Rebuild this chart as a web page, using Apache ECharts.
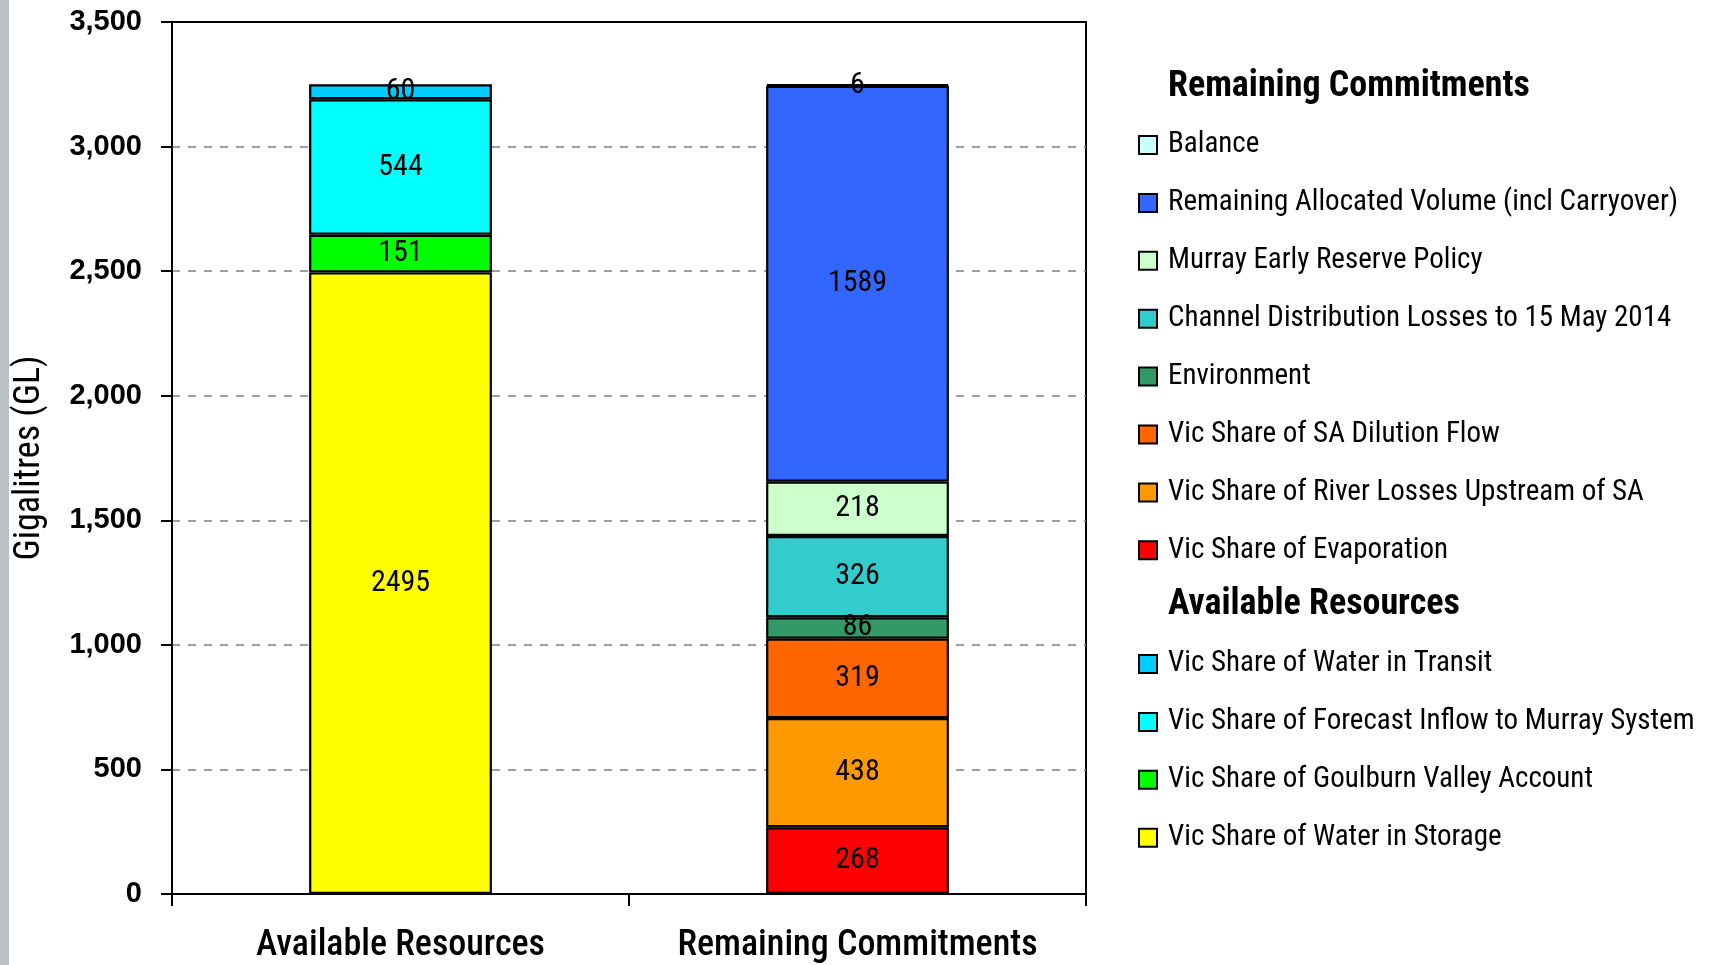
<!DOCTYPE html>
<html><head><meta charset="utf-8">
<script src="https://cdn.jsdelivr.net/npm/echarts@6/dist/echarts.min.js"></script>
<style>html,body{margin:0;padding:0;background:#fff}#c{width:1718px;height:965px}</style>
</head><body><div id="c"></div>
<script>
const categories = ['Available Resources', 'Remaining Commitments'];
const yMin = 0, yMax = 3500, yStep = 500;

const availableNames = ['Vic Share of Water in Storage', 'Vic Share of Goulburn Valley Account', 'Vic Share of Forecast Inflow to Murray System', 'Vic Share of Water in Transit'];
const availableValues = [2495, 151, 544, 60];
const availableColors = ['#FFFF00', '#00FF00', '#00FFFF', '#00CCFF'];

const commitmentNames = ['Vic Share of Evaporation', 'Vic Share of River Losses Upstream of SA', 'Vic Share of SA Dilution Flow', 'Environment', 'Channel Distribution Losses to 15 May 2014', 'Murray Early Reserve Policy', 'Remaining Allocated Volume (incl Carryover)', 'Balance'];
const commitmentValues = [268, 438, 319, 86, 326, 218, 1589, 6];
const commitmentColors = ['#FF0000', '#FF9900', '#FF6600', '#339966', '#33CCCC', '#CCFFCC', '#3366FF', '#CCFFFF'];

const NARROW = "'Roboto Condensed', 'DejaVu Sans Condensed', sans-serif";

function mkSeries(name, value, color, catIndex) {
  const data = categories.map((c, i) => i === catIndex ? value : '-');
  return {
    name: name, type: 'bar', stack: 'total', data: data, barWidth: '40%',
    itemStyle: { color: color, borderColor: '#000', borderWidth: 2.2 },
    label: { show: true, position: 'inside', color: '#000', fontFamily: NARROW, fontSize: 30,
      formatter: p => p.value },
    emphasis: { disabled: true }
  };
}
const series = [];
availableNames.forEach((n, i) => series.push(mkSeries(n, availableValues[i], availableColors[i], 0)));
commitmentNames.forEach((n, i) => series.push(mkSeries(n, commitmentValues[i], commitmentColors[i], 1)));

const legendText = { fontFamily: NARROW, fontSize: 29, color: '#000', lineHeight: 30, padding: [0, 0, 0, 6] };

const chart = echarts.init(document.getElementById('c'), null, { renderer: 'canvas' });
chart.setOption({
  backgroundColor: '#fff',
  animation: false,
  graphic: [{ type: 'rect', shape: { x: 0, y: 0, width: 9, height: 965 }, style: { fill: '#b9c1c5' }, silent: true }],
  title: [
    { text: 'Remaining Commitments', left: 1168, top: 68, padding: 0,
      textStyle: { fontFamily: NARROW, fontSize: 36, fontWeight: 'bold', color: '#000', lineHeight: 38 } },
    { text: 'Available Resources', left: 1168, top: 586, padding: 0,
      textStyle: { fontFamily: NARROW, fontSize: 36, fontWeight: 'bold', color: '#000', lineHeight: 38 } }
  ],
  legend: [
    { data: commitmentNames.slice().reverse(), orient: 'vertical', left: 1138, top: 130, padding: 0,
      itemWidth: 18, itemHeight: 18, itemGap: 27.9, icon: 'rect', selectedMode: false, textStyle: legendText,
      itemStyle: { borderColor: '#000', borderWidth: 2 } },
    { data: availableNames.slice().reverse(), orient: 'vertical', left: 1138, top: 649, padding: 0,
      itemWidth: 18, itemHeight: 18, itemGap: 27.9, icon: 'rect', selectedMode: false, textStyle: legendText,
      itemStyle: { borderColor: '#000', borderWidth: 2 } }
  ],
  grid: { left: 172, right: 632, top: 22, bottom: 71, show: true, borderColor: '#000', borderWidth: 2, backgroundColor: 'transparent' },
  xAxis: {
    type: 'category', data: categories,
    axisLine: { lineStyle: { color: '#000', width: 2 } },
    axisTick: { show: true, length: 12, lineStyle: { color: '#000', width: 2 } },
    axisLabel: { interval: 0, fontFamily: NARROW, fontSize: 36, fontWeight: 500, color: '#000', margin: 34 }
  },
  yAxis: {
    type: 'value', min: yMin, max: yMax, interval: yStep,
    name: 'Gigalitres (GL)', nameLocation: 'middle', nameGap: 124,
    nameTextStyle: { fontFamily: NARROW, fontSize: 36, color: '#000' },
    axisLine: { show: true, lineStyle: { color: '#000', width: 2 } },
    axisTick: { show: true, length: 11, lineStyle: { color: '#000', width: 2 } },
    axisLabel: { fontFamily: "'Liberation Sans', Arial, sans-serif", fontSize: 29, fontWeight: 'bold', color: '#000', margin: 30,
      formatter: v => v.toLocaleString('en-US') },
    splitLine: { show: true, showMaxLine: false, showMinLine: false, lineStyle: { color: '#808080', type: [8, 8], width: 1.5 } }
  },
  series: series
});
</script></body></html>
